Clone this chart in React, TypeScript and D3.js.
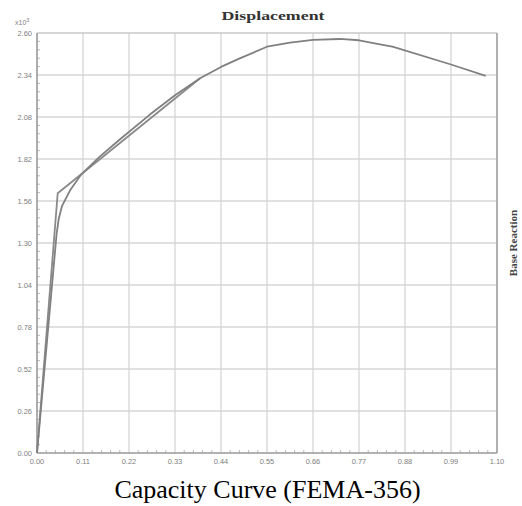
import React, { useEffect, useRef } from "react";
import * as d3 from "d3";

const xTicks = [0, 0.11, 0.22, 0.33, 0.44, 0.55, 0.66, 0.77, 0.88, 0.99, 1.1];
const yTicks = [0, 0.26, 0.52, 0.78, 1.04, 1.3, 1.56, 1.82, 2.08, 2.34, 2.6];

// capacity (pushover) curve: displacement, base reaction (x10^3)
const curveX = [0, 0.047, 0.052, 0.06, 0.08, 0.106, 0.15, 0.2, 0.27, 0.33, 0.39, 0.44, 0.485, 0.55, 0.605, 0.66, 0.724, 0.77, 0.82, 0.85, 0.99, 1.073];
const curveY = [0, 1.36, 1.45, 1.53, 1.63, 1.725, 1.835, 1.945, 2.095, 2.215, 2.32, 2.39, 2.443, 2.515, 2.54, 2.557, 2.563, 2.555, 2.53, 2.515, 2.405, 2.335];

// FEMA-356 bilinear idealization
const biX = [0, 0.0495, 0.39];
const biY = [0, 1.608, 2.32];

export default function App() {
  const ref = useRef<SVGSVGElement>(null);
  useEffect(() => {
    const svg = d3.select(ref.current);
    svg.selectAll("*").remove();
    const L = 37, R = 497, T = 33, B = 453;
    const x = d3.scaleLinear().domain([0, 1.1]).range([L, R]);
    const y = d3.scaleLinear().domain([0, 2.6]).range([B, T]);

    svg.append("rect").attr("x", 0).attr("y", 0).attr("width", 522).attr("height", 506).attr("fill", "#fff");

    const g = svg.append("g");
    // grid
    g.selectAll(".vg").data(xTicks.slice(1, -1)).enter().append("line")
      .attr("x1", d => x(d)).attr("x2", d => x(d)).attr("y1", T).attr("y2", B)
      .attr("stroke", "#d6d6d6").attr("stroke-width", 1.3);
    g.selectAll(".hg").data(yTicks.slice(1, -1)).enter().append("line")
      .attr("y1", d => y(d)).attr("y2", d => y(d)).attr("x1", L).attr("x2", R)
      .attr("stroke", "#d6d6d6").attr("stroke-width", 1.3);
    // top border
    g.append("line").attr("x1", L).attr("x2", R).attr("y1", T).attr("y2", T).attr("stroke", "#c8c8c8").attr("stroke-width", 1.3);
    // right border
    g.append("line").attr("x1", R).attr("x2", R).attr("y1", T).attr("y2", B).attr("stroke", "#a8a8a8").attr("stroke-width", 1.8);

    // minor ticks
    const minorX: number[] = [];
    for (let i = 0; i < 10; i++) for (let j = 1; j < 5; j++) minorX.push(xTicks[i] + (j * 0.11) / 5);
    const minorY: number[] = [];
    for (let i = 0; i < 10; i++) for (let j = 1; j < 5; j++) minorY.push(yTicks[i] + (j * 0.26) / 5);
    g.selectAll(".mx").data(minorX).enter().append("line")
      .attr("x1", d => x(d)).attr("x2", d => x(d)).attr("y1", B).attr("y2", B - 3)
      .attr("stroke", "#bbb").attr("stroke-width", 1);
    g.selectAll(".my").data(minorY).enter().append("line")
      .attr("y1", d => y(d)).attr("y2", d => y(d)).attr("x1", L).attr("x2", L + 3)
      .attr("stroke", "#bbb").attr("stroke-width", 1);

    // axes lines
    g.append("line").attr("x1", L).attr("x2", L).attr("y1", T).attr("y2", B).attr("stroke", "#999").attr("stroke-width", 1.6);
    g.append("line").attr("x1", L).attr("x2", R).attr("y1", B).attr("y2", B).attr("stroke", "#999").attr("stroke-width", 1.6);

    // tick labels
    g.selectAll(".yl").data(yTicks).enter().append("text")
      .attr("x", L - 5).attr("y", d => y(d) + 2.5).attr("text-anchor", "end")
      .attr("font-family", "Liberation Sans, Arial, sans-serif").attr("font-size", 7.5).attr("fill", "#808080")
      .text(d => d.toFixed(2));
    g.selectAll(".xl").data(xTicks).enter().append("text")
      .attr("x", d => x(d)).attr("y", B + 10.5).attr("text-anchor", "middle")
      .attr("font-family", "Liberation Sans, Arial, sans-serif").attr("font-size", 7.5).attr("fill", "#808080")
      .text(d => d.toFixed(2));

    // x10^3
    const mt = g.append("text").attr("x", 15).attr("y", 25)
      .attr("font-family", "Liberation Sans, Arial, sans-serif").attr("font-size", 7).attr("fill", "#808080");
    mt.append("tspan").text("x10");
    mt.append("tspan").attr("dy", -3).attr("font-size", 5.5).text("3");

    // lines
    const line = d3.line<[number, number]>().x(d => x(d[0])).y(d => y(d[1]));
    const curve = curveX.map((v, i) => [v, curveY[i]] as [number, number]);
    const bi = biX.map((v, i) => [v, biY[i]] as [number, number]);
    g.append("path").attr("d", line(bi)).attr("fill", "none").attr("stroke", "#8a8a8a").attr("stroke-width", 1.8);
    g.append("path").attr("d", line(curve)).attr("fill", "none").attr("stroke", "#808080").attr("stroke-width", 1.8).attr("stroke-linejoin", "round");

    // title
    g.append("text").attr("x", 273).attr("y", 20).attr("text-anchor", "middle")
      .attr("font-family", "Liberation Serif, Times New Roman, serif").attr("font-weight", "bold")
      .attr("font-size", 13).attr("fill", "#333").attr("textLength", 103).attr("lengthAdjust", "spacingAndGlyphs")
      .text("Displacement");
    // y label right
    g.append("text").attr("transform", "translate(517,243) rotate(-90)").attr("text-anchor", "middle")
      .attr("font-family", "Liberation Serif, Times New Roman, serif").attr("font-weight", "bold")
      .attr("font-size", 11).attr("fill", "#444")
      .text("Base Reaction");
    // caption
    g.append("text").attr("x", 267.5).attr("y", 498).attr("text-anchor", "middle")
      .attr("font-family", "Liberation Serif, Times New Roman, serif")
      .attr("font-size", 26).attr("fill", "#000")
      .text("Capacity Curve (FEMA-356)");
  }, []);
  return (
    <svg ref={ref} width={522} height={506} style={{ position: "absolute", left: 0, top: 0 }} />
  );
}
